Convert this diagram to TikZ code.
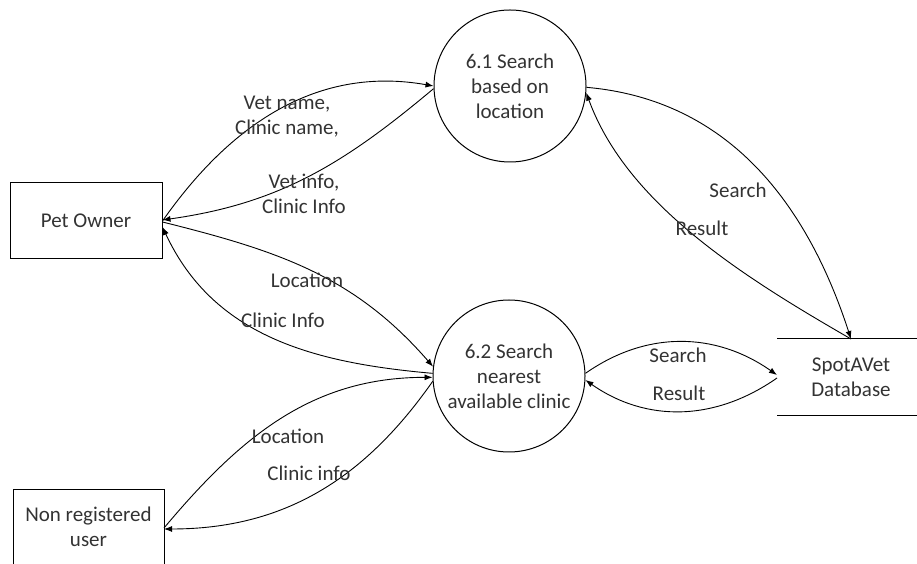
\documentclass[tikz,border=0pt]{standalone}
\usepackage{fontspec}
\setmainfont{Carlito}
\usetikzlibrary{arrows.meta}
\begin{document}
\begin{tikzpicture}[x=1pt,y=1pt,
  every node/.style={font=\fontsize{21}{25}\selectfont, text=black!80},
  proc/.style={draw=black, circle, line width=1pt, minimum size=152pt, inner sep=0pt, align=center},
  ent/.style={draw=black, line width=1pt, minimum width=152pt, minimum height=76pt},
  lbl/.style={align=center, inner sep=0pt},
  flow/.style={draw=black, line width=0.9pt, -{Latex[length=8pt,width=6pt]}},
  edge line/.style={draw=black, line width=1pt}
]
\useasboundingbox (0,0) rectangle (917,564);
% nodes
\node[ent] (po) at (86,343) {Pet Owner};
\node[proc] (p61) at (510,478) {6.1 Search\\based on\\location};
\node[proc] (p62) at (509,188) {6.2 Search\\nearest\\available clinic};
\node[align=center, inner sep=0pt] (db) at (851,187) {SpotAVet\\Database};
\draw[edge line] (777,225) -- (925,225) (777,148) -- (925,148);
\coordinate (dbt) at (851,225);
\coordinate (dbl1) at (777,189);
\coordinate (dbl2) at (777,186);
\draw[edge line] (13,-8) -- (13,74) -- (164,74) -- (164,-8);
\node[align=center, inner sep=0pt] (nru) at (88.5,37) {Non registered\\user};
\coordinate (nruA) at (164,36);
\coordinate (nruB) at (164,35);
% flows
\draw[flow] (po.east) to[out=55,in=170] (p61.180);
\draw[flow] (p61.182) to[out=220,in=8] ([yshift=1pt]po.east);
\draw[flow] ([yshift=-1pt]po.east) to[out=-14,in=131] (p62.173);
\draw[flow] (p62.178) to[out=175,in=-65] ([yshift=-6pt]po.east);
\draw[flow] (nruA) to[out=50,in=180] (p62.181);
\draw[flow] (p62.184) to[out=235,in=0] (nruB);
\draw[flow] (p61.-1) to[out=-5,in=108] (dbt);
\draw[flow] (dbt) to[out=150,in=-70,looseness=0.85] (p61.-5);
\draw[flow] (p62.2) to[out=35,in=145] (dbl1);
\draw[flow] (dbl2) to[out=215,in=-35] (p62.-3);
% labels
\node[lbl] (l1) at (287,447) {Vet name,\\Clinic name,};
\node[lbl] (l2) at (304,370) {Vet info,\\Clinic Info};
\node[lbl] (l3) at (307,284) {Location};
\node[lbl] (l4) at (283,244) {Clinic Info};
\node[lbl] (l5) at (288,128) {Location};
\node[lbl] (l6) at (309,91) {Clinic info};
\node[lbl] (l7) at (738,374) {Search};
\node[lbl] (l8) at (702,336) {Result};
\node[lbl] (l9) at (678,209) {Search};
\node[lbl] (l10) at (679,171) {Result};
\end{tikzpicture}
\end{document}
